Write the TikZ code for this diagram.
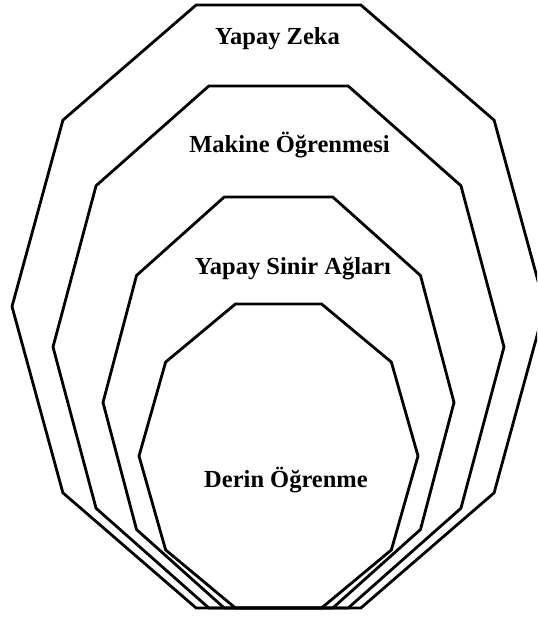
\documentclass[tikz,border=0pt]{standalone}
\usepackage{fontspec}
\setmainfont{Liberation Serif}
\newcommand\mydecagon[4]{%
  \draw[poly] ({#1+#3},{#2}) \foreach \a in {36,72,...,324} { -- ({#1+#3*cos(\a)},{#2-#4*sin(\a)}) } -- cycle;}
\begin{document}
\begin{tikzpicture}[x=1pt,y=-1pt,
  poly/.style={line width=2.8pt,line join=miter,black},
  lbl/.style={anchor=base,inner sep=0pt,font=\bfseries\fontsize{24.5}{29}\selectfont}]
\useasboundingbox (0,0) rectangle (537,617);
\clip (0,0) rectangle (537,617);
\mydecagon{278.5}{306.5}{266.5}{317}
\mydecagon{278.5}{347}{225.5}{274.4}
\mydecagon{278.5}{402.5}{175.5}{216.1}
\mydecagon{278.5}{456}{139.5}{159.8}
\node[lbl] (yz) at (277.5,45) {Yapay Zeka};
\node[lbl] (mo) at (289.5,153) {Makine Öğrenmesi};
\node[lbl] (ysa) at (293,274) {Yapay Sinir Ağları};
\node[lbl] (do) at (286,487) {Derin Öğrenme};
\end{tikzpicture}
\end{document}
